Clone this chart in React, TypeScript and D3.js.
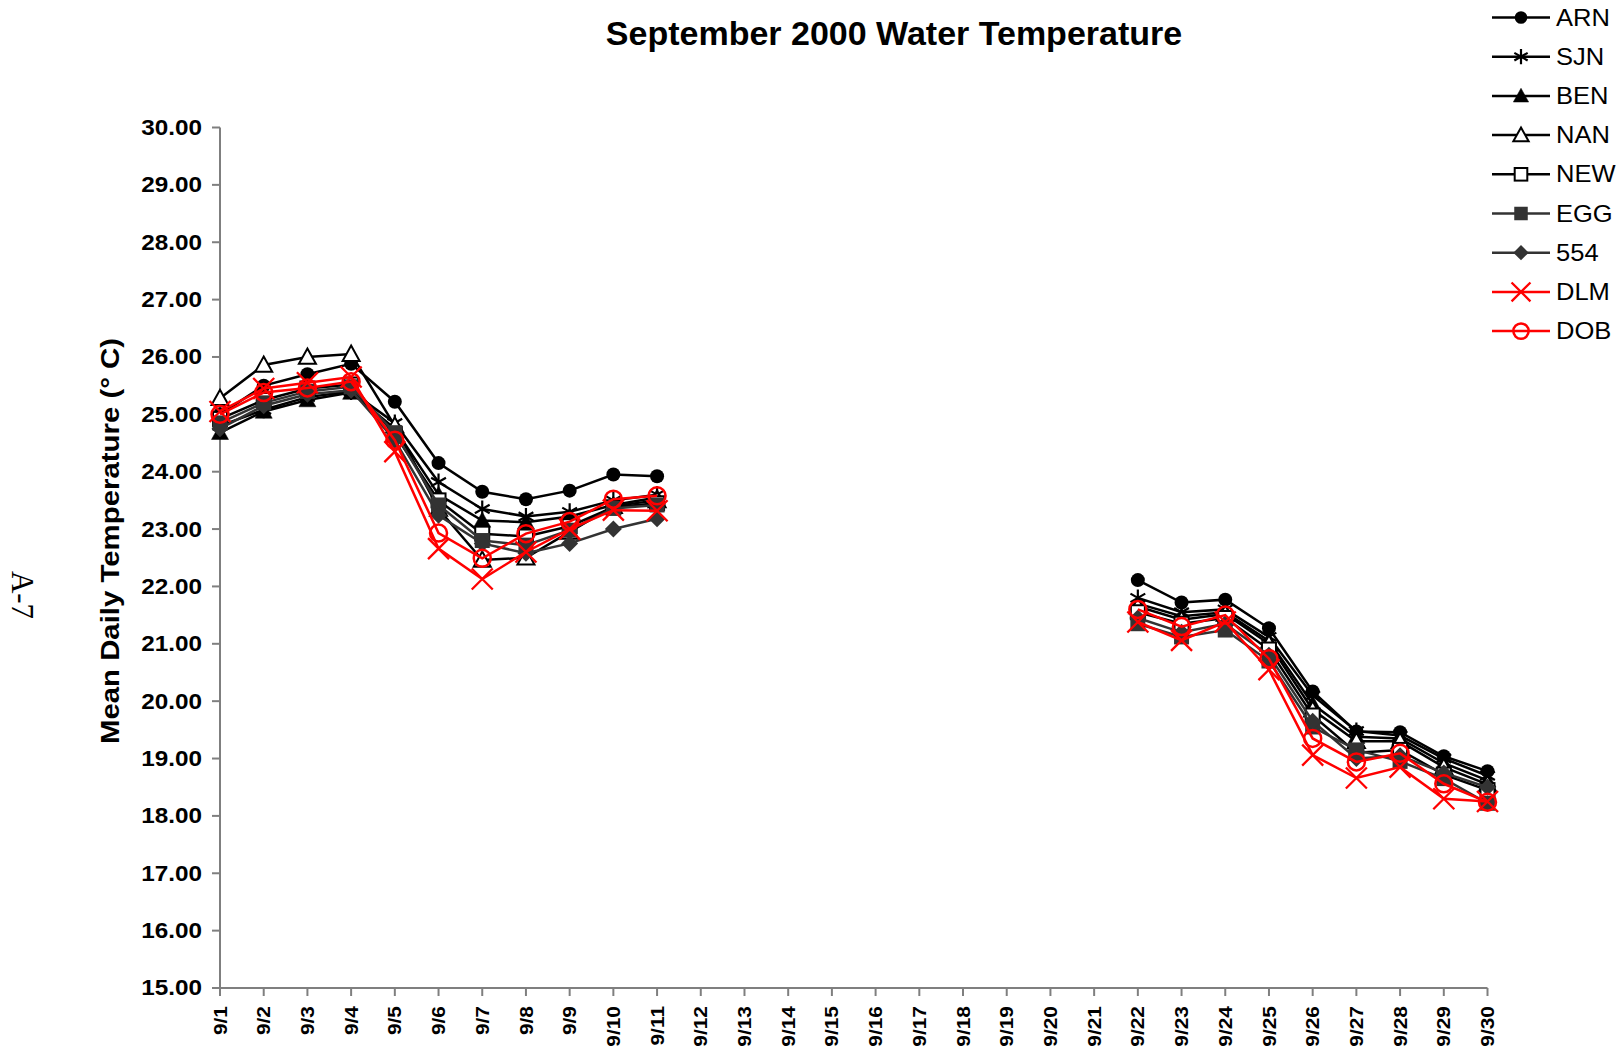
import React from "react";
import * as d3 from "d3";

const days: number[] = d3.range(1, 31);
const dayLabels: string[] = days.map((d) => `9/${d}`);
const yTicks: number[] = [15, 16, 17, 18, 19, 20, 21, 22, 23, 24, 25, 26, 27, 28, 29, 30];

const N = null;
const ARN = [25.0, 25.5, 25.7, 25.88, 25.22, 24.15, 23.65, 23.52, 23.67, 23.95, 23.92, N, N, N, N, N, N, N, N, N, N, 22.11, 21.72, 21.77, 21.27, 20.17, 19.47, 19.46, 19.04, 18.78];
const SJN = [24.8, 25.08, 25.3, 25.4, 24.85, 23.82, 23.35, 23.22, 23.3, 23.5, 23.6, N, N, N, N, N, N, N, N, N, N, 21.8, 21.55, 21.6, 21.12, 20.1, 19.48, 19.4, 19.0, 18.7];
const BEN = [24.68, 25.05, 25.25, 25.38, 24.75, 23.6, 23.15, 23.12, 23.22, 23.42, 23.55, N, N, N, N, N, N, N, N, N, N, 21.7, 21.48, 21.55, 21.05, 19.95, 19.38, 19.35, 18.92, 18.62];
const NAN = [25.28, 25.86, 26.0, 26.05, 24.8, 23.35, 22.46, 22.5, 22.95, 23.4, 23.5, N, N, N, N, N, N, N, N, N, N, 21.65, 21.42, 21.52, 21.0, 19.85, 19.3, 19.3, 18.85, 18.55];
const NEW = [24.92, 25.25, 25.45, 25.52, 24.65, 23.5, 22.92, 22.87, 23.05, 23.38, 23.45, N, N, N, N, N, N, N, N, N, N, 21.55, 21.35, 21.45, 20.9, 19.75, 19.1, 19.15, 18.72, 18.45];
const EGG = [24.85, 25.2, 25.4, 25.48, 24.68, 23.42, 22.8, 22.72, 22.98, 23.36, 23.42, N, N, N, N, N, N, N, N, N, N, 21.35, 21.12, 21.24, 20.7, 19.55, 19.15, 18.95, 18.65, 18.22];
const S554 = [24.75, 25.15, 25.35, 25.42, 24.55, 23.24, 22.75, 22.58, 22.75, 23.0, 23.18, N, N, N, N, N, N, N, N, N, N, 21.45, 21.2, 21.35, 20.8, 19.65, 19.0, 19.05, 18.75, 18.5];
const DLM = [25.05, 25.45, 25.55, 25.65, 24.35, 22.66, 22.13, 22.6, 23.0, 23.33, 23.32, N, N, N, N, N, N, N, N, N, N, 21.38, 21.06, 21.38, 20.55, 19.06, 18.66, 18.85, 18.3, 18.25];
const DOB = [25.0, 25.38, 25.46, 25.57, 24.55, 22.93, 22.49, 22.92, 23.13, 23.52, 23.58, N, N, N, N, N, N, N, N, N, N, 21.6, 21.3, 21.5, 20.74, 19.35, 18.94, 19.09, 18.56, 18.24];

type Marker = "circle" | "asterisk" | "triFill" | "triOpen" | "sqOpen" | "sqFill" | "diamond" | "x" | "circleOpen";

const seriesNames = ["ARN", "SJN", "BEN", "NAN", "NEW", "EGG", "554", "DLM", "DOB"];
const seriesValues = [ARN, SJN, BEN, NAN, NEW, EGG, S554, DLM, DOB];
const seriesMarkers: Marker[] = ["circle", "asterisk", "triFill", "triOpen", "sqOpen", "sqFill", "diamond", "x", "circleOpen"];
const seriesColors = ["#000000", "#000000", "#000000", "#000000", "#000000", "#333333", "#333333", "#ff0000", "#ff0000"];

const FONT = "'Liberation Sans', Arial, Helvetica, sans-serif";

function MarkerShape({ type, x, y, color, s = 1 }: { type: Marker; x: number; y: number; color: string; s?: number }) {
  switch (type) {
    case "circle":
      return <circle cx={x} cy={y} r={7 * s} fill={color} />;
    case "asterisk": {
      const a = 8.5 * s;
      const b = a * 0.87;
      const c = a * 0.5;
      return (
        <path
          d={`M${x},${y - a}L${x},${y + a}M${x - b},${y - c}L${x + b},${y + c}M${x - b},${y + c}L${x + b},${y - c}`}
          stroke={color}
          strokeWidth={2.2}
          fill="none"
        />
      );
    }
    case "triFill":
    case "triOpen": {
      const h = 8.5 * s;
      return (
        <path
          d={`M${x},${y - h}L${x + h},${y + h * 0.8}L${x - h},${y + h * 0.8}Z`}
          fill={type === "triFill" ? color : "#fff"}
          stroke={color}
          strokeWidth={type === "triFill" ? 0.5 : 2}
        />
      );
    }
    case "sqOpen":
      return <rect x={x - 7 * s} y={y - 7 * s} width={14 * s} height={14 * s} fill="#fff" stroke={color} strokeWidth={2} />;
    case "sqFill":
      return <rect x={x - 7.5 * s} y={y - 7.5 * s} width={15 * s} height={15 * s} fill={color} />;
    case "diamond": {
      const h = 8.5 * s;
      return <path d={`M${x},${y - h}L${x + h},${y}L${x},${y + h}L${x - h},${y}Z`} fill={color} />;
    }
    case "x": {
      const h = 10.5 * s;
      return (
        <path d={`M${x - h},${y - h}L${x + h},${y + h}M${x - h},${y + h}L${x + h},${y - h}`} stroke={color} strokeWidth={2.3} fill="none" />
      );
    }
    case "circleOpen":
      return <circle cx={x} cy={y} r={8.5 * s} fill="none" stroke={color} strokeWidth={2.5} />;
  }
  return null;
}

export default function App() {
  const W = 1623;
  const H = 1050;
  const x = d3.scaleLinear().domain([1, 30]).range([220, 1487.5]);
  const y = d3.scaleLinear().domain([15, 30]).range([988, 127.5]);

  const line = d3
    .line<number | null>()
    .defined((d) => d !== null)
    .x((_, i) => x(days[i]))
    .y((d) => y(d as number));

  const axisColor = "#7f7f7f";

  return (
    <svg width={W} height={H} style={{ position: "absolute", left: 0, top: 0, background: "#fff" }} fontFamily={FONT}>
      <rect width={W} height={H} fill="#fff" />
      {/* Title */}
      <text x={894} y={45} textAnchor="middle" fontSize={34} fontWeight="bold" fill="#000">
        September 2000 Water Temperature
      </text>

      {/* A-7 side text */}
      <text transform="translate(12,595) rotate(90)" textAnchor="middle" fontSize={31} fontFamily="'Liberation Serif', 'Times New Roman', serif" fill="#000">
        A-7
      </text>

      {/* Y axis */}
      <line x1={220} x2={220} y1={y(30)} y2={y(15)} stroke={axisColor} strokeWidth={2} />
      {yTicks.map((t) => (
        <g key={t}>
          <line x1={212} x2={220} y1={y(t)} y2={y(t)} stroke={axisColor} strokeWidth={2} />
          <text
            transform={`translate(202,${y(t)}) scale(1.13,1)`}
            textAnchor="end"
            dominantBaseline="central"
            fontSize={21.5}
            fontWeight="bold"
            fill="#000"
          >
            {t.toFixed(2)}
          </text>
        </g>
      ))}
      <text
        transform={`translate(110,541) rotate(-90) scale(1.13,1)`}
        textAnchor="middle"
        dominantBaseline="central"
        fontSize={26}
        fontWeight="bold"
        fill="#000"
      >
        Mean Daily Temperature (° C)
      </text>

      {/* X axis */}
      <line x1={220} x2={1487.5} y1={988} y2={988} stroke={axisColor} strokeWidth={2} />
      {days.map((d, i) => (
        <g key={d}>
          <line x1={x(d)} x2={x(d)} y1={988} y2={996} stroke={axisColor} strokeWidth={2} />
          <text
            transform={`translate(${x(d)},1006) rotate(-90) scale(1.13,1)`}
            textAnchor="end"
            dominantBaseline="central"
            fontSize={18.5}
            fontWeight="bold"
            fill="#000"
          >
            {dayLabels[i]}
          </text>
        </g>
      ))}

      {/* Series */}
      {seriesValues.map((vals, si) => (
        <g key={seriesNames[si]}>
          <path d={line(vals) || ""} fill="none" stroke={seriesColors[si]} strokeWidth={2.5} />
          {vals.map((v, i) =>
            v === null ? null : <MarkerShape key={i} type={seriesMarkers[si]} x={x(days[i])} y={y(v)} color={seriesColors[si]} />
          )}
        </g>
      ))}

      {/* Legend */}
      {seriesNames.map((n, i) => {
        const ly = 17.5 + i * 39.2;
        return (
          <g key={n}>
            <line x1={1492} x2={1550} y1={ly} y2={ly} stroke={seriesColors[i]} strokeWidth={2.5} />
            <MarkerShape type={seriesMarkers[i]} x={1521} y={ly} color={seriesColors[i]} s={0.9} />
            <text transform={`translate(1556,${ly}) scale(1.11,1)`} dominantBaseline="central" fontSize={23} fill="#000">
              {n}
            </text>
          </g>
        );
      })}
    </svg>
  );
}
